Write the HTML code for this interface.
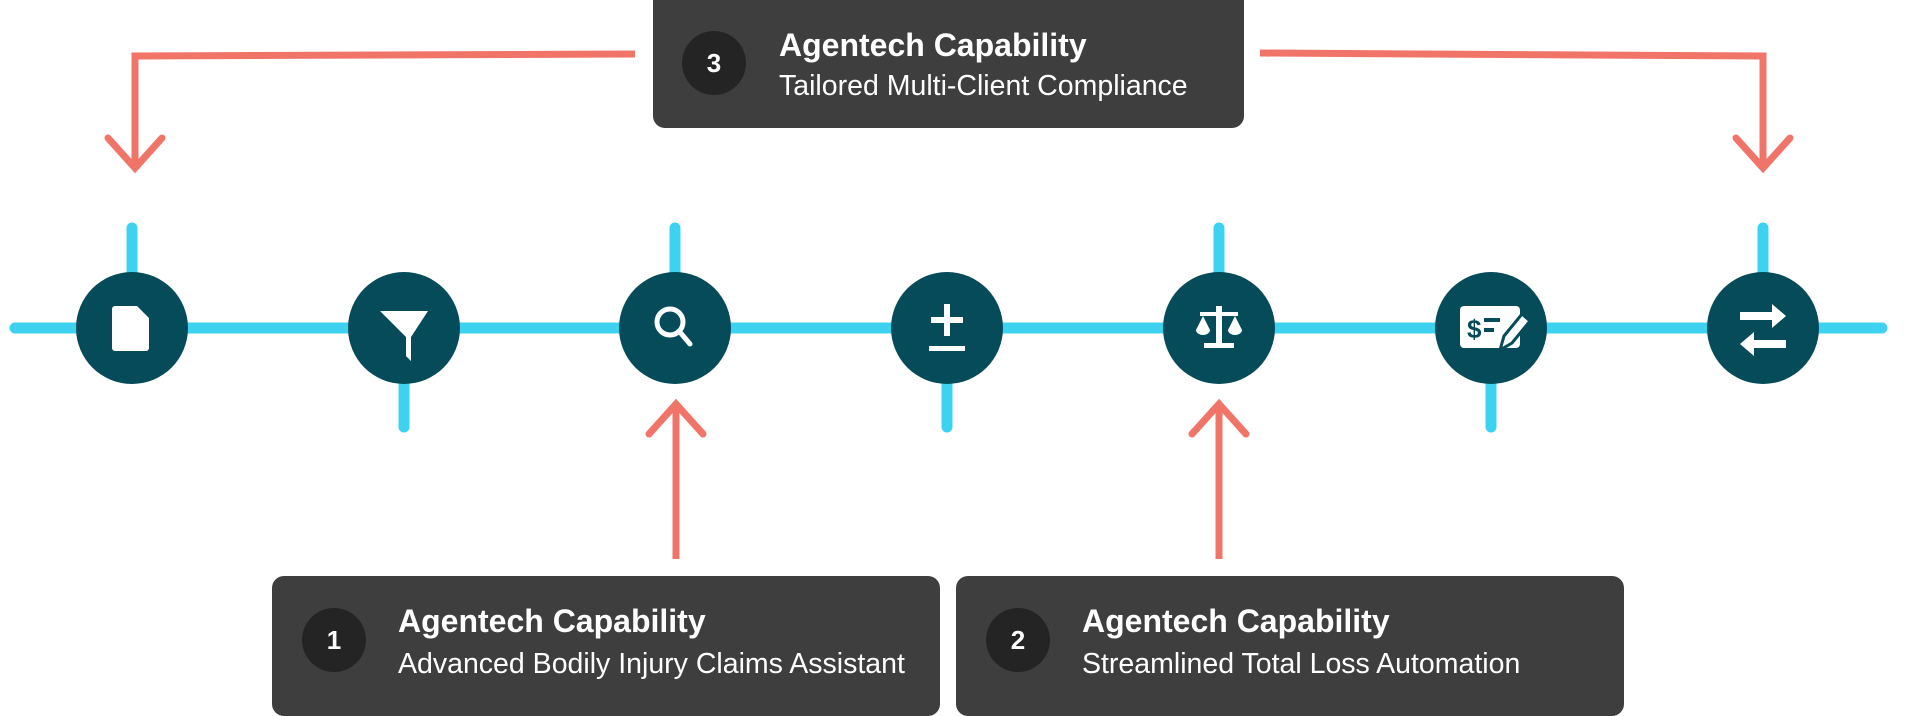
<!DOCTYPE html>
<html><head><meta charset="utf-8"><style>
html,body{margin:0;padding:0;background:#fff;}
body{width:1928px;height:704px;position:relative;overflow:hidden;font-family:"Liberation Sans",sans-serif;}
.box{position:absolute;background:#3e3e3e;border-radius:12px;}
.badge{position:absolute;width:64px;height:64px;border-radius:50%;background:#242424;color:#fff;font-weight:bold;font-size:26px;line-height:64px;text-align:center;}
.t{position:absolute;color:#fff;font-weight:bold;font-size:32px;white-space:nowrap;}
.s{position:absolute;color:#fff;font-size:28.5px;white-space:nowrap;}
</style></head><body>
<svg width="1928" height="704" style="position:absolute;left:0;top:0">
<g stroke="#3dd3f0" stroke-width="11" stroke-linecap="round" fill="none">
<line x1="15" y1="328" x2="1882" y2="328"/>
<line x1="132" y1="228" x2="132" y2="290"/>
<line x1="675" y1="228" x2="675" y2="290"/>
<line x1="1219" y1="228" x2="1219" y2="290"/>
<line x1="1763" y1="228" x2="1763" y2="290"/>
<line x1="404" y1="370" x2="404" y2="427"/>
<line x1="947" y1="370" x2="947" y2="427"/>
<line x1="1491" y1="370" x2="1491" y2="427"/>
</g>
<g fill="#054b5a">
<circle cx="132" cy="328" r="56"/><circle cx="404" cy="328" r="56"/><circle cx="675" cy="328" r="56"/><circle cx="947" cy="328" r="56"/><circle cx="1219" cy="328" r="56"/><circle cx="1491" cy="328" r="56"/><circle cx="1763" cy="328" r="56"/>
</g>
<g fill="#fff" stroke="none">
<path d="M115 306 h22 l12 12 v30 a3 3 0 0 1 -3 3 h-31 a3 3 0 0 1 -3 -3 v-39 a3 3 0 0 1 3 -3z"/>
<path d="M380 311 h48 l-17 26 v24 l-5 -5 v-19z"/>
<circle cx="670" cy="322" r="13" fill="none" stroke="#fff" stroke-width="5"/>
<line x1="679" y1="331" x2="690" y2="344" stroke="#fff" stroke-width="5" stroke-linecap="round"/>
<rect x="944" y="304" width="6" height="32"/><rect x="931" y="317" width="32" height="6"/><rect x="929" y="346" width="36" height="5"/>
<rect x="1216" y="306" width="6" height="40"/><rect x="1200" y="312" width="38" height="4"/><rect x="1204" y="343" width="30" height="5"/>
<path d="M1196 330 l7 -14 l7 14 a7 5 0 0 1 -14 0z"/><path d="M1228 330 l7 -14 l7 14 a7 5 0 0 1 -14 0z"/>
<rect x="1460" y="306" width="60" height="42" rx="4"/>
<text x="1467" y="338" font-family="Liberation Sans" font-weight="bold" font-size="26" fill="#054b5a">$</text>
<rect x="1484" y="318" width="16" height="4" fill="#054b5a"/><rect x="1484" y="328" width="10" height="4" fill="#054b5a"/>
<path d="M1500 350 l4 -14 l18 -22 l8 7 l-18 22z" stroke="#054b5a" stroke-width="3"/>
<path d="M1740 312 h32 v-8 l14 12 l-14 12 v-8 h-32z"/><path d="M1786 340 h-32 v-8 l-14 12 l14 12 v-8 h32z"/>
</g>
<g stroke="#f07468" stroke-width="7" fill="none" stroke-linecap="round" stroke-linejoin="miter">
<polyline points="635,54 135,56 135,168" stroke-linecap="butt"/>
<polyline points="108,138 135,168 162,138"/>
<polyline points="1260,53 1763,56 1763,168" stroke-linecap="butt"/>
<polyline points="1736,138 1763,168 1790,138"/>
<line x1="676" y1="559" x2="676" y2="406" stroke-linecap="butt"/>
<polyline points="649,434 676,404 703,434"/>
<line x1="1219" y1="559" x2="1219" y2="406" stroke-linecap="butt"/>
<polyline points="1192,434 1219,404 1246,434"/>
</g>
</svg>
<div class="box" style="left:653px;top:0;width:591px;height:128px;border-radius:0 0 12px 12px;"></div>
<div class="badge" style="left:682px;top:31px;">3</div>
<div class="t" style="left:779px;top:27px;">Agentech Capability</div>
<div class="s" style="left:779px;top:70px;">Tailored Multi-Client Compliance</div>
<div class="box" style="left:272px;top:576px;width:668px;height:140px;"></div>
<div class="badge" style="left:302px;top:608px;">1</div>
<div class="t" style="left:398px;top:603px;">Agentech Capability</div>
<div class="s" style="left:398px;top:648px;">Advanced Bodily Injury Claims Assistant</div>
<div class="box" style="left:956px;top:576px;width:668px;height:140px;"></div>
<div class="badge" style="left:986px;top:608px;">2</div>
<div class="t" style="left:1082px;top:603px;">Agentech Capability</div>
<div class="s" style="left:1082px;top:648px;">Streamlined Total Loss Automation</div>
</body></html>
